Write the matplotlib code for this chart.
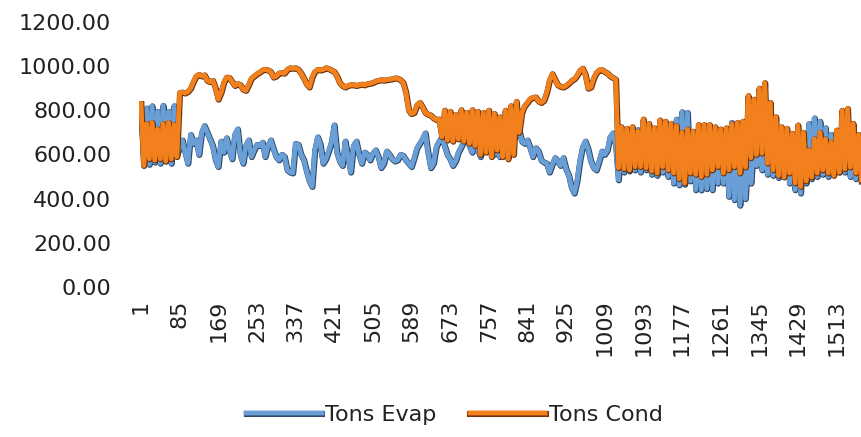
import numpy as np
import matplotlib
matplotlib.use("Agg")
import matplotlib.pyplot as plt
import matplotlib.patheffects as pe

# One reading every SAMPLE_STEP categories, starting at category 1
SAMPLE_STEP = 6

tons_evap = [
    800, 560, 810, 555, 820, 565, 795, 560, 822, 570,
    795, 560, 820, 600, 630, 665, 610, 560, 690, 650,
    665, 600, 700, 730, 700, 670, 640, 575, 545, 660,
    610, 675, 620, 580, 690, 715, 600, 560, 640, 665,
    590, 620, 645, 640, 655, 590, 640, 665, 625, 590,
    575, 600, 590, 530, 520, 516, 650, 645, 600, 575,
    525, 480, 455, 620, 679, 645, 560, 580, 615, 655,
    733, 610, 570, 550, 660, 590, 520, 640, 660, 600,
    560, 610, 600, 575, 605, 620, 590, 540, 560, 615,
    600, 580, 570, 575, 600, 595, 575, 560, 545, 585,
    630, 650, 670, 697, 610, 540, 560, 635, 660, 679,
    640, 600, 580, 550, 570, 610, 634, 660, 679, 640,
    610, 705, 625, 590, 640, 650, 634, 610, 600, 620,
    590, 640, 600, 650, 610, 660, 697, 711, 660, 650,
    665, 630, 590, 630, 615, 575, 565, 560, 520, 555,
    585, 570, 550, 585, 535, 505, 450, 425, 480, 570,
    634, 660, 625, 570, 540, 530, 570, 615, 600, 620,
    680, 697, 645, 485, 680, 520, 690, 525, 700, 530,
    712, 520, 690, 530, 680, 510, 700, 505, 690, 520,
    680, 500, 700, 470, 760, 462, 793, 465, 790, 480,
    680, 440, 670, 439, 690, 445, 680, 440, 670, 470,
    660, 470, 690, 410, 745, 395, 720, 370, 650, 400,
    620, 470, 640, 550, 650, 530, 640, 510, 660, 505,
    670, 495, 680, 500, 690, 470, 680, 440, 700, 425,
    690, 470, 740, 490, 765, 500, 750, 510, 720, 500,
    690, 510, 700, 520, 680, 520, 690, 500, 660, 490,
    650, 480,
]

tons_cond = [
    830, 550, 740, 580, 745, 575, 715, 580, 740, 570,
    745, 580, 735, 590, 880, 882, 878, 885, 900, 930,
    955, 962, 955, 960, 935, 930, 935, 900, 850, 880,
    925, 950, 948, 930, 912, 920, 915, 895, 890, 915,
    945, 955, 965, 972, 982, 985, 982, 975, 950, 955,
    968, 970, 968, 985, 992, 990, 992, 985, 968, 945,
    920, 905, 950, 975, 985, 982, 985, 992, 988, 982,
    975, 955, 925, 912, 905, 912, 915, 915, 912, 915,
    918, 915, 920, 922, 925, 932, 935, 938, 936, 938,
    940, 942, 946, 945, 938, 925, 880, 800, 785, 790,
    825, 835, 815, 790, 782, 778, 765, 758, 760, 680,
    800, 665, 795, 660, 780, 670, 802, 660, 790, 650,
    802, 640, 795, 600, 790, 610, 800, 590, 785, 620,
    770, 590, 800, 580, 820, 600, 840, 700, 790, 820,
    835, 852, 858, 860, 842, 835, 845, 880, 935, 965,
    940, 915, 908, 905, 912, 922, 935, 942, 958, 980,
    990, 962, 900, 905, 945, 970, 982, 983, 975, 968,
    955, 948, 940, 540, 725, 535, 718, 530, 725, 545,
    705, 545, 760, 540, 740, 525, 720, 516, 756, 545,
    750, 530, 740, 516, 730, 490, 700, 471, 715, 516,
    705, 510, 735, 500, 735, 510, 735, 530, 725, 545,
    715, 516, 720, 530, 738, 545, 745, 516, 750, 543,
    866, 585, 850, 600, 900, 606, 925, 560, 835, 530,
    770, 505, 725, 498, 718, 516, 695, 471, 733, 455,
    700, 480, 620, 498, 670, 516, 700, 530, 670, 516,
    655, 505, 710, 520, 800, 535, 808, 543, 740, 516,
    690, 485,
]

x_tick_labels = [1, 85, 169, 253, 337, 421, 505, 589, 673, 757,
                 841, 925, 1009, 1093, 1177, 1261, 1345, 1429, 1513]
y_ticks = [0, 200, 400, 600, 800, 1000, 1200]

series_names = ["Tons Evap", "Tons Cond"]

evap_x = 1 + SAMPLE_STEP * np.arange(len(tons_evap))
cond_x = 1 + SAMPLE_STEP * np.arange(len(tons_cond))

plt.rcParams["font.family"] = ["DejaVu Sans"]
plt.rcParams["path.simplify"] = False

W, H = 862, 437
fig = plt.figure(figsize=(W / 100, H / 100), dpi=100, facecolor="white")
left, right, top, bottom = 139, 862, 22, 287
ax = fig.add_axes([left / W, 1 - bottom / H, (right - left) / W, (bottom - top) / H])
ax.set_facecolor("white")


def outlined(color, edge):
    # dark rim under the coloured stroke, coloured pass drawn twice to keep
    # dense stretches solid
    return [pe.Stroke(linewidth=4.4, foreground=edge, offset=(0.3, -0.3)),
            pe.Stroke(linewidth=3.2, foreground=color),
            pe.Normal()]


evap_color, cond_color = "#699fd6", "#f2801c"
ax.plot(evap_x, tons_evap, color=evap_color, lw=3.2, label=series_names[0],
        solid_joinstyle="round", path_effects=outlined(evap_color, "#2d4a6b"))
ax.plot(cond_x, tons_cond, color=cond_color, lw=3.2, label=series_names[1],
        solid_joinstyle="round", path_effects=outlined(cond_color, "#6e3510"))

ax.set_xlim(-3.3, 1568.4)
ax.set_ylim(0, 1200)
ax.set_yticks(y_ticks)
ax.set_yticklabels([f"{v:.2f}" for v in y_ticks])
ax.set_xticks(x_tick_labels)
ax.set_xticklabels([str(v) for v in x_tick_labels], rotation=90)
ax.tick_params(axis="y", length=0, labelsize=16, pad=20, colors="#222222")
ax.tick_params(axis="x", length=0, labelsize=16, pad=9, colors="#222222")
for s in ax.spines.values():
    s.set_visible(False)

fig.legend(loc="center", bbox_to_anchor=(0.527, 0.05), ncol=2, frameon=False,
           handlelength=3.4, handletextpad=0.15, columnspacing=1.5,
           fontsize=16, labelcolor="#222222")

fig.savefig("out.png", dpi=100, facecolor="white")
